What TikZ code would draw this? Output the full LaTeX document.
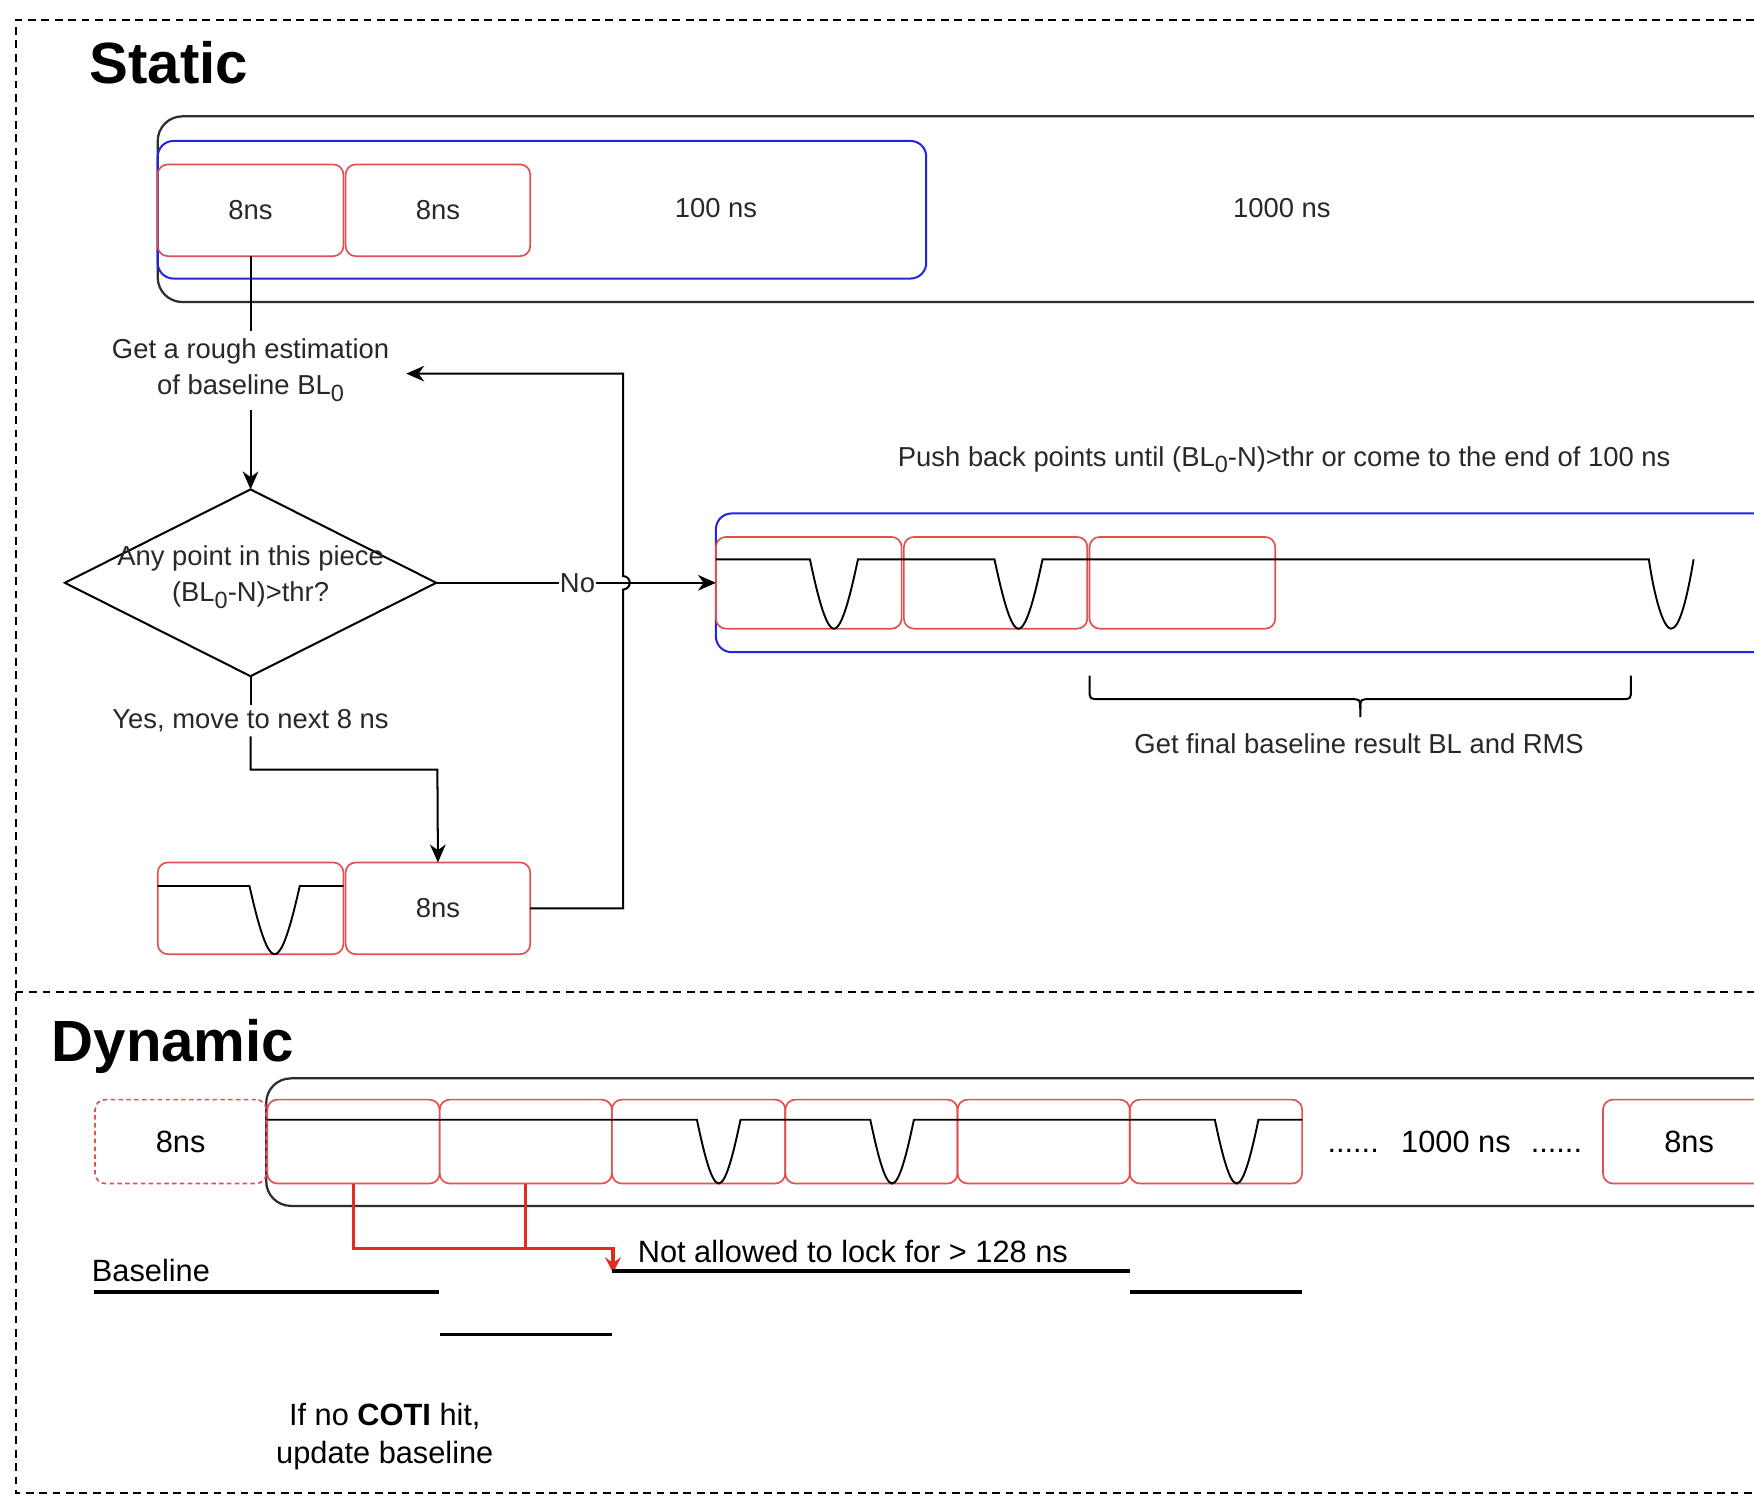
\documentclass[tikz,border=0pt]{standalone}
\usepackage{fontspec}
\setmainfont{Liberation Sans}
\usetikzlibrary{shapes.geometric,arrows.meta,calc}
\definecolor{boxred}{RGB}{226,80,80}
\definecolor{boxblue}{RGB}{35,35,225}
\definecolor{linered}{RGB}{225,45,30}
\definecolor{boxgray}{RGB}{45,45,45}
\definecolor{txtgray}{RGB}{40,40,40}
\newcommand{\wdip}[4]{-- (#1,#3) .. controls ({#1+0.14*(#2-#1)},{#3+0.45*(#4-#3)}) and ({#1+0.32*(#2-#1)},#4) .. ({(#1+#2)/2},#4) .. controls ({#1+0.68*(#2-#1)},#4) and ({#1+0.86*(#2-#1)},{#3+0.45*(#4-#3)}) .. (#2,#3)}
\newcommand{\zsub}{\raisebox{-6pt}{\fontsize{21}{21}\selectfont 0}}
\tikzset{
 frameline/.style={line width=1.6pt, dash pattern=on 7pt off 5pt},
 redbox/.style={draw=boxred, line width=1.5pt, rounded corners=9pt, inner sep=0pt, outer sep=0pt, anchor=north west, minimum height=82pt},
 bluebox/.style={draw=boxblue, line width=1.8pt, rounded corners=14pt, inner sep=0pt, outer sep=0pt, anchor=north west},
 graybox/.style={draw=boxgray, line width=2pt, rounded corners=22pt, inner sep=0pt, outer sep=0pt, anchor=north west},
 stxt/.style={text=txtgray, font=\fontsize{24.5}{32}\selectfont, inner sep=2pt},
 dtxt/.style={text=black, font=\fontsize{27.5}{34}\selectfont, inner sep=0pt},
 ttl/.style={font=\fontsize{52}{60}\selectfont\bfseries, inner sep=0pt, anchor=base west},
 conn/.style={draw=black, line width=1.8pt},
 arr/.style={conn, -{Stealth[length=16pt,width=14pt,inset=5pt]}},
 wave/.style={draw=black, line width=1.7pt},
 level/.style={draw=black, line width=3.5pt},
 redline/.style={draw=linered, line width=3pt},
}
\begin{document}
\begin{tikzpicture}[x=1pt,y=-1pt]
\useasboundingbox (0,0) rectangle (1568,1349);
\clip (0,0) rectangle (1568,1349);
% frames
\draw[frameline] (1580,18) -- (14,18) -- (14,1335) -- (1580,1335);
\draw[frameline] (14,887) -- (1580,887);
% titles
\node[ttl] (tstatic) at (80,75) {Static};
\node[ttl] (tdyn) at (46,949) {Dynamic};

% ---------- Static ----------
\node[graybox, minimum width=1700pt, minimum height=166pt] (big) at (141,104) {};
\node[bluebox, minimum width=687pt, minimum height=123pt] (blue1) at (141,126) {};
\node[redbox, stxt, minimum width=166pt] (s1) at (141,147) {8ns};
\node[redbox, stxt, minimum width=165pt] (s2) at (309,147) {8ns};
\node[stxt] (t100) at (640,186) {100 ns};
\node[stxt] (t1000) at (1146,186) {1000 ns};

\node[stxt, align=center, minimum width=278pt, minimum height=70pt, fill=white] (rough) at (224,331) {Get a rough estimation\\of baseline BL\zsub};
\draw[conn] (s1.south) -- (rough.north);

\node[diamond, draw, line width=1.8pt, minimum width=332pt, minimum height=167pt, inner sep=0pt, outer sep=0pt] (dia) at (224,521) {};
\node[stxt, align=center] (diat) at (224,516) {Any point in this piece\\(BL\zsub-N)>thr?};
\draw[arr] (rough.south) -- (dia.north);

\node[stxt, fill=white, minimum height=28pt] (yes) at (224,644) {Yes, move to next 8 ns};
\draw[conn] (dia.south) -- (yes.north);
\coordinate (ycorner) at (391,688);
\node[redbox, minimum width=166pt] (s3) at (141,771) {};
\node[redbox, stxt, minimum width=165pt] (s4) at (309,771) {8ns};
\draw[arr] (yes.south) |- (ycorner) -- (s4.north);
\draw[wave] (141,792) \wdip{223}{268}{792}{853} -- (307,792);

\node[stxt] (push) at (1148,411) {Push back points until (BL\zsub-N)>thr or come to the end of 100 ns};
\node[bluebox, minimum width=1000pt, minimum height=124pt] (blue2) at (640,459) {};
\node[redbox, minimum width=166pt] (r5) at (640,480) {};
\node[redbox, minimum width=164pt] (r6) at (808,480) {};
\node[redbox, minimum width=166pt] (r7) at (974,480) {};
\draw[wave] (640,500) \wdip{724}{767}{500}{562} \wdip{889}{932}{500}{562} -- (1474,500)
  .. controls (1478,528) and (1486,562) .. (1494,562) .. controls (1502,562) and (1509,530) .. (1514,500);

\draw[arr] (dia.east) -- node[pos=0.505, stxt, fill=white, inner sep=1pt] (nolbl) {No} (blue2.west);

\coordinate (loopc) at (557,334);
\draw[arr] (s4.east) -| ($(loopc|-dia.east)+(0,6)$) arc[start angle=90, end angle=-90, radius=6] -- (loopc) -- (rough.east |- loopc);

% brace
\draw[conn] (974,604) -- (974,616) .. controls (974,625) .. (983,625) -- (1207,625) .. controls (1216,625) .. (1216,634) -- (1216,641);
\draw[conn] (1458,604) -- (1458,616) .. controls (1458,625) .. (1449,625) -- (1225,625) .. controls (1216,625) .. (1216,634);
\node[stxt] (final) at (1215,665) {Get final baseline result BL and RMS};

% ---------- Dynamic ----------
\node[graybox, minimum width=1500pt, minimum height=114pt] (big2) at (238,964) {};
\node[redbox, dash pattern=on 4pt off 3pt, dtxt, minimum width=153pt, minimum height=75pt] (d0) at (85,983) {8ns};
\foreach \i/\x/\w in {1/239/154,2/393/154,3/547/155,4/702/154,5/856/154,6/1010/154}
  \node[redbox, minimum width=\w pt, minimum height=75pt] (q\i) at (\x,983) {};
\node[redbox, minimum width=300pt, minimum height=75pt] (qe) at (1433,983) {};
\node[dtxt] (qet) at (1510,1021) {8ns};
\node[dtxt] (dots) at (1300.5,1021) {......\hspace{20pt}1000 ns\hspace{18pt}......};
\draw[wave] (239,1001) \wdip{623}{662}{1001}{1058} \wdip{778}{817}{1001}{1058} \wdip{1086}{1125}{1001}{1058} -- (1164,1001);

\coordinate (rj) at (548,1116);
\coordinate (rend) at (548,1138);
\draw[redline, -{Stealth[length=14pt,width=14pt,inset=5pt]}] (q1.south) |- (rj) -- (rend);
\draw[redline] (q2.south) -- (q2.south |- rj);

\draw[level] (84,1155) -- (392,1155);
\draw[level] (393,1193) -- (547,1193);
\draw[level] (547,1136) -- (1010,1136);
\draw[level] (1010,1155) -- (1164,1155);

\node[dtxt, anchor=base west] (bl) at (82,1146) {Baseline};
\node[dtxt, anchor=base west] (nal) at (570,1129) {Not allowed to lock for > 128 ns};
\node[dtxt, anchor=base] (coti1) at (344,1274) {If no \textbf{COTI} hit,};
\node[dtxt, anchor=base] (coti2) at (344,1308) {update baseline};
\end{tikzpicture}
\end{document}
